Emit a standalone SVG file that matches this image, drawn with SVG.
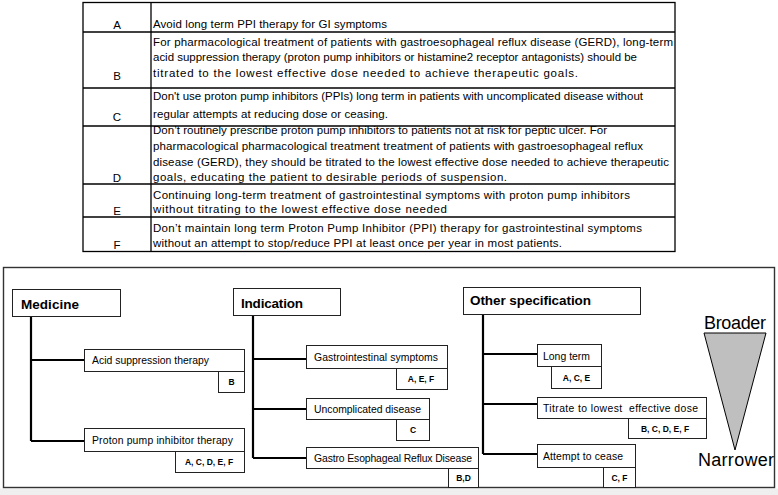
<svg xmlns="http://www.w3.org/2000/svg" width="778" height="495" viewBox="0 0 778 495">
<style>
.t{font-family:"Liberation Sans",Arial,sans-serif;font-size:11.5px;fill:#000}
.lab{font-family:"Liberation Sans",Arial,sans-serif;font-size:11.5px;fill:#000;text-anchor:middle}
.grid{stroke:#000;stroke-width:1.3;fill:none}
.hd{font-family:"Liberation Sans",Arial,sans-serif;font-size:13.5px;font-weight:bold;fill:#000}
.sm{font-family:"Liberation Sans",Arial,sans-serif;font-size:10.4px;fill:#000}
.ref{font-family:"Liberation Sans",Arial,sans-serif;font-size:8.5px;font-weight:bold;fill:#000;text-anchor:middle}
.box{fill:#fff;stroke:#222;stroke-width:1}
.conn{stroke:#000;stroke-width:2.2;fill:none}
.big{font-family:"Liberation Sans",Arial,sans-serif;font-size:18px;fill:#000;text-anchor:middle}
</style>
<rect x="0" y="0" width="778" height="495" fill="#fff"/>
<g id="table">
<rect class="grid" x="83" y="2.5" width="592" height="249"/>
<line class="grid" x1="151" y1="2.5" x2="151" y2="251.5"/>
<line class="grid" x1="83" y1="32" x2="675" y2="32"/>
<line class="grid" x1="83" y1="88" x2="675" y2="88"/>
<line class="grid" x1="83" y1="126" x2="675" y2="126"/>
<line class="grid" x1="83" y1="184" x2="675" y2="184"/>
<line class="grid" x1="83" y1="217" x2="675" y2="217"/>
<text class="lab" x="117" y="29">A</text>
<text class="t" x="153" y="28" textLength="234" lengthAdjust="spacing">Avoid long term PPI therapy for GI symptoms</text>
<text class="lab" x="117" y="80">B</text>
<text class="t" x="153" y="45.5" textLength="520" lengthAdjust="spacing">For pharmacological treatment of patients with gastroesophageal reflux disease (GERD), long-term</text>
<text class="t" x="153" y="61" textLength="484" lengthAdjust="spacing">acid suppression therapy (proton pump inhibitors or histamine2 receptor antagonists) should be</text>
<text class="t" x="153" y="76.5" textLength="425" lengthAdjust="spacing">titrated to the lowest effective dose needed to achieve therapeutic goals.</text>
<text class="lab" x="117" y="121">C</text>
<text class="t" x="153" y="100" textLength="490" lengthAdjust="spacing">Don't use proton pump inhibitors (PPIs) long term in patients with uncomplicated disease without</text>
<text class="t" x="153" y="118" textLength="235" lengthAdjust="spacing">regular attempts at reducing dose or ceasing.</text>
<text class="lab" x="117" y="182">D</text>
<text class="t" x="153" y="133.5" textLength="454" lengthAdjust="spacing">Don’t routinely prescribe proton pump inhibitors to patients not at risk for peptic ulcer. For</text>
<text class="t" x="153" y="149.5" textLength="490" lengthAdjust="spacing">pharmacological pharmacological treatment treatment of patients with gastroesophageal reflux</text>
<text class="t" x="153" y="165.5" textLength="516" lengthAdjust="spacing">disease (GERD), they should be titrated to the lowest effective dose needed to achieve therapeutic</text>
<text class="t" x="153" y="181" textLength="354" lengthAdjust="spacing">goals, educating the patient to desirable periods of suspension.</text>
<text class="lab" x="117" y="214.5">E</text>
<text class="t" x="153" y="198.5" textLength="477" lengthAdjust="spacing">Continuing long-term treatment of gastrointestinal symptoms with proton pump inhibitors</text>
<text class="t" x="153" y="213" textLength="294" lengthAdjust="spacing">without titrating to the lowest effective dose needed</text>
<text class="lab" x="117" y="248.5">F</text>
<text class="t" x="153" y="231.5" textLength="489" lengthAdjust="spacing">Don’t maintain long term Proton Pump Inhibitor (PPI) therapy for gastrointestinal symptoms</text>
<text class="t" x="153" y="247" textLength="409" lengthAdjust="spacing">without an attempt to stop/reduce PPI at least once per year in most patients.</text>
</g>
<rect x="0" y="488.5" width="778" height="6.5" fill="#efefef"/>
<rect x="3.5" y="267.5" width="771" height="220" fill="#fff" stroke="#333" stroke-width="1.4"/>
<g id="connectors">
<path class="conn" d="M31 316 V441 M31 360 H84 M31 441 H84"/>
<path class="conn" d="M253 315 V458 M253 359 H306 M253 409 H306 M253 458 H306"/>
<path class="conn" d="M483 314 V454 M483 354 H537 M483 404 H537 M483 454 H537"/>
</g>
<g id="medicine">
<rect class="box" x="12.5" y="289.5" width="108" height="27"/>
<text class="hd" x="21" y="309" textLength="58" lengthAdjust="spacing">Medicine</text>
</g>
<g id="acid">
<rect class="box" x="84.5" y="349.5" width="160" height="22"/>
<text class="sm" x="92" y="364" textLength="117" lengthAdjust="spacing">Acid suppression therapy</text>
<rect class="box" x="218.5" y="371.5" width="26" height="21"/>
<text class="ref" x="231.5" y="385">B</text>
</g>
<g id="ppi">
<rect class="box" x="84.5" y="428.5" width="160" height="23"/>
<text class="sm" x="92" y="444" textLength="141" lengthAdjust="spacing">Proton pump inhibitor therapy</text>
<rect class="box" x="175.5" y="451.5" width="69" height="21"/>
<text class="ref" x="209" y="465">A, C, D, E, F</text>
</g>
<g id="indication">
<rect class="box" x="233.5" y="288.5" width="107" height="27"/>
<text class="hd" x="241" y="308" textLength="62" lengthAdjust="spacing">Indication</text>
</g>
<g id="gi">
<rect class="box" x="306.5" y="345.5" width="141" height="23"/>
<text class="sm" x="314" y="361" textLength="124" lengthAdjust="spacing">Gastrointestinal symptoms</text>
<rect class="box" x="396.5" y="368.5" width="51" height="21"/>
<text class="ref" x="421" y="382">A, E, F</text>
</g>
<g id="uncomplicated">
<rect class="box" x="306.5" y="398.5" width="123" height="21"/>
<text class="sm" x="314" y="413" textLength="107" lengthAdjust="spacing">Uncomplicated disease</text>
<rect class="box" x="396.5" y="419.5" width="33" height="21"/>
<text class="ref" x="413" y="433">C</text>
</g>
<g id="gerd">
<rect class="box" x="306.5" y="447.5" width="172" height="21"/>
<text class="sm" x="314" y="462" textLength="158" lengthAdjust="spacing">Gastro Esophageal Reflux Disease</text>
<rect class="box" x="448.5" y="468.5" width="30" height="19"/>
<text class="ref" x="463.5" y="481">B,D</text>
</g>
<g id="other">
<rect class="box" x="463.5" y="287.5" width="177" height="27"/>
<text class="hd" x="470" y="305" textLength="121" lengthAdjust="spacing">Other specification</text>
</g>
<g id="longterm">
<rect class="box" x="537.5" y="344.5" width="64" height="22"/>
<text class="sm" x="543" y="360" textLength="47" lengthAdjust="spacing">Long term</text>
<rect class="box" x="551.5" y="366.5" width="50" height="22"/>
<text class="ref" x="576.5" y="381">A, C, E</text>
</g>
<g id="titrate">
<rect class="box" x="537.5" y="397.5" width="169" height="21"/>
<text class="sm" x="543" y="411.5" textLength="155" lengthAdjust="spacing" xml:space="preserve">Titrate to lowest  effective dose</text>
<rect class="box" x="628.5" y="418.5" width="78" height="20"/>
<text class="ref" x="665" y="431.5">B, C, D, E, F</text>
</g>
<g id="attempt">
<rect class="box" x="537.5" y="444.5" width="98" height="23"/>
<text class="sm" x="543" y="459.5" textLength="80" lengthAdjust="spacing">Attempt to cease</text>
<rect class="box" x="603.5" y="467.5" width="32" height="20"/>
<text class="ref" x="619.5" y="480.5">C, F</text>
</g>
<g id="scale">
<polygon points="704,333 766,333 735,450" fill="#bfbfbf" stroke="#000" stroke-width="1"/>
<text class="big" x="735" y="329" textLength="62" lengthAdjust="spacing">Broader</text>
<text class="big" x="736" y="466" textLength="76" lengthAdjust="spacing">Narrower</text>
</g>
</svg>
